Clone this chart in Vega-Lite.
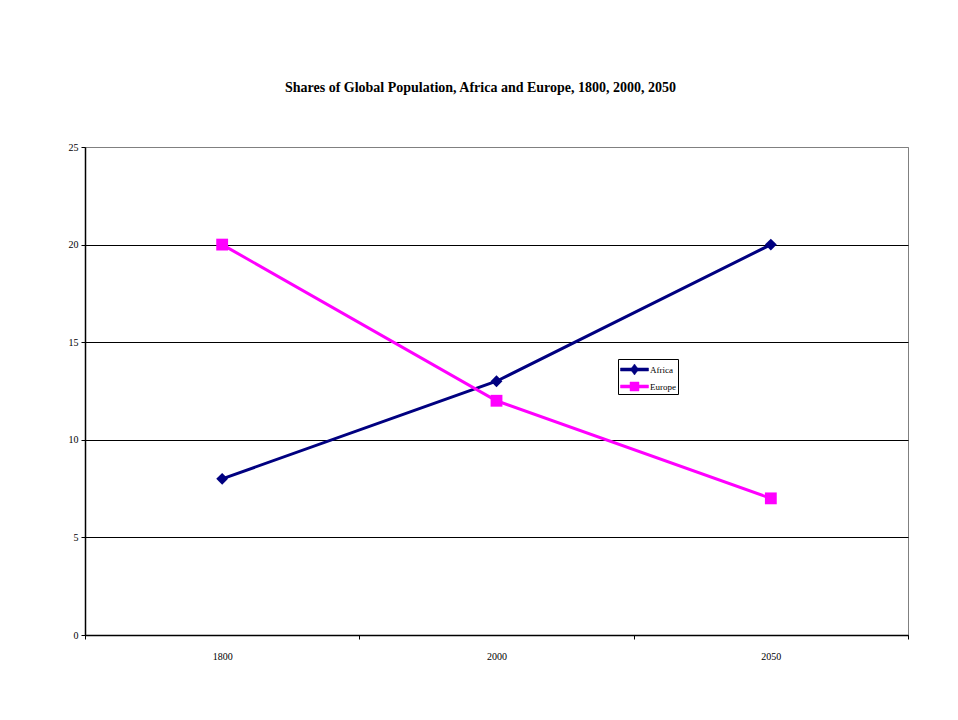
{
  "$schema": "https://vega.github.io/schema/vega-lite/v6.json",
  "width": 823,
  "height": 488,
  "autosize": "none",
  "padding": {"left": 85, "top": 147, "right": 50, "bottom": 85},
  "background": "white",
  "title": {
    "text": "Shares of Global Population, Africa and Europe, 1800, 2000, 2050",
    "font": "Liberation Serif",
    "fontSize": 14,
    "fontWeight": "bold",
    "color": "black",
    "anchor": "middle",
    "offset": 47,
    "dx": -16
  },
  "config": {
    "view": {"stroke": "#808080", "strokeWidth": 1},
    "axis": {"labelFont": "Liberation Serif", "labelFontSize": 10, "labelColor": "black", "domainColor": "black", "tickColor": "black"}
  },
  "data": {
    "values": [
      {"year": "1800", "region": "Africa", "share": 8},
      {"year": "2000", "region": "Africa", "share": 13},
      {"year": "2050", "region": "Africa", "share": 20},
      {"year": "1800", "region": "Europe", "share": 20},
      {"year": "2000", "region": "Europe", "share": 12},
      {"year": "2050", "region": "Europe", "share": 7}
    ]
  },
  "encoding": {
    "x": {
      "field": "year", "type": "ordinal", "sort": ["1800", "2000", "2050"],
      "scale": {"paddingInner": 0, "paddingOuter": 0},
      "axis": {"title": null, "labelAngle": 0, "tickBand": "extent", "tickSize": 4, "labelPadding": 12, "domainWidth": 1.5, "grid": false}
    },
    "y": {
      "field": "share", "type": "quantitative",
      "scale": {"domain": [0, 25], "nice": false},
      "axis": {
        "title": null, "values": [0, 5, 10, 15, 20, 25], "tickSize": 4, "labelPadding": 3,
        "grid": true,
        "gridColor": {"condition": {"test": "datum.value == 25", "value": "#808080"}, "value": "black"},
        "gridOpacity": 1, "gridWidth": 1, "domainWidth": 1.5
      }
    },
    "color": {
      "field": "region", "type": "nominal",
      "scale": {"domain": ["Africa", "Europe"], "range": ["#000080", "#FF00FF"]},
      "legend": {
        "title": null,
        "orient": "none",
        "legendX": 533,
        "legendY": 212,
        "strokeColor": "black",
        "fillColor": "white",
        "padding": 2,
        "rowPadding": 1,
        "labelFont": "Liberation Serif",
        "labelFontSize": 9,
        "labelColor": "black",
        "labelOffset": 13,
        "symbolSize": 256,
        "symbolStrokeWidth": 0.5,
        "symbolType": {"expr": "datum.value === 'Africa' ? 'M-1,-0.19L2.5,-0.19L2.5,0.19L-1,0.19Z M0.75,-0.69L1.25,0L0.75,0.69L0.25,0Z' : 'M-1,-0.19L2.5,-0.19L2.5,0.19L-1,0.19Z M0.19,-0.56L1.31,-0.56L1.31,0.56L0.19,0.56Z'"}
      }
    }
  },
  "layer": [
    {"mark": {"type": "line", "strokeWidth": 3}},
    {
      "transform": [{"filter": "datum.region === 'Africa'"}],
      "mark": {"type": "point", "shape": "diamond", "filled": true, "opacity": 1, "size": 140}
    },
    {
      "transform": [{"filter": "datum.region === 'Europe'"}],
      "mark": {"type": "point", "shape": "square", "filled": true, "opacity": 1, "size": 140}
    }
  ]
}
